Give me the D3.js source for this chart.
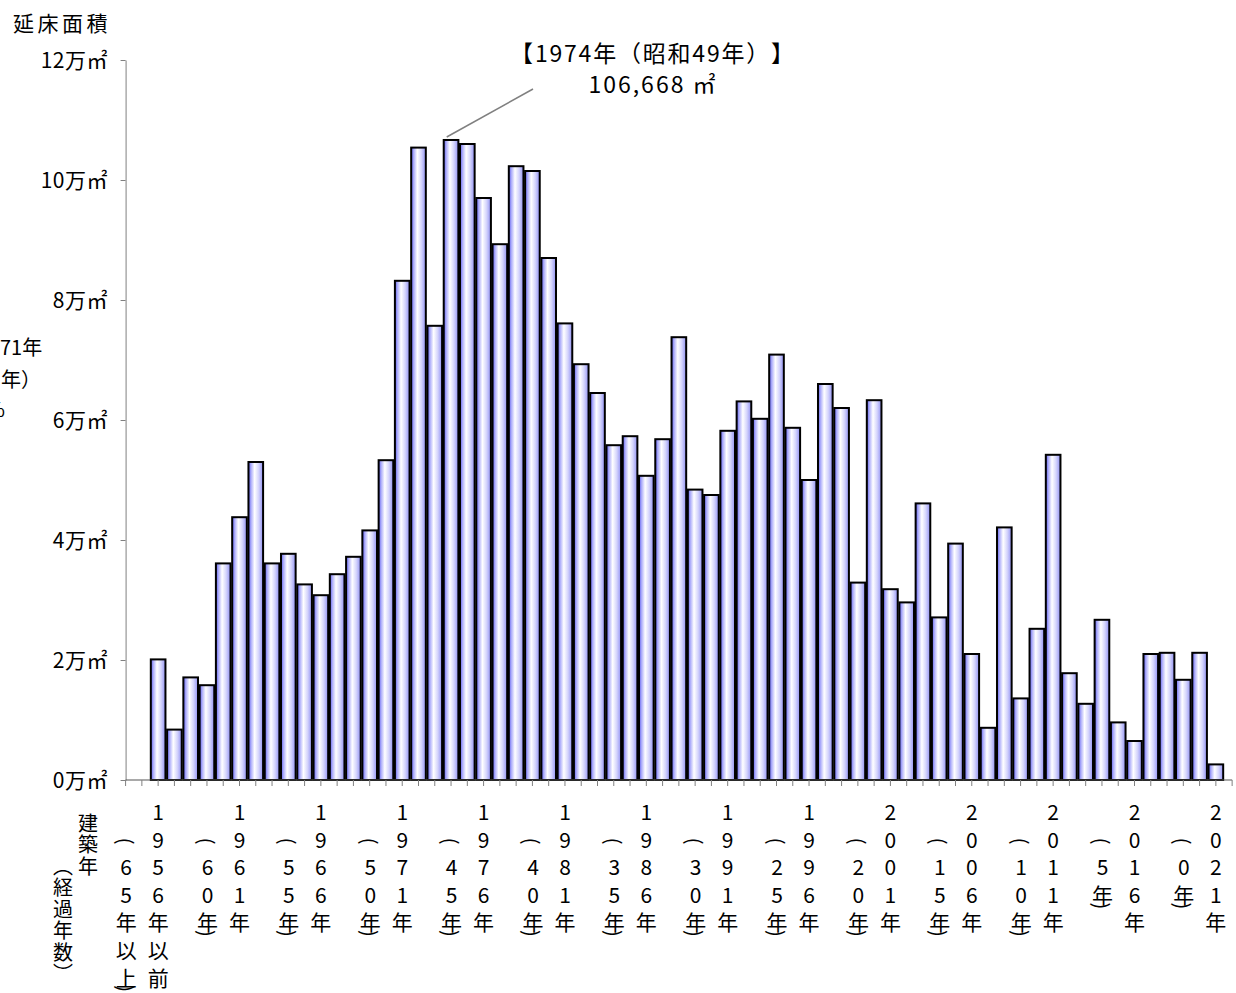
<!DOCTYPE html>
<html>
<head>
<meta charset="utf-8">
<script src="https://cdn.jsdelivr.net/npm/d3@7"></script>
<style>
  body { margin: 0; background: #fff; }
  text { font-family: "Noto Sans CJK JP", "Noto Sans", sans-serif; fill: #000; text-spacing-trim: space-all; }
</style>
</head>
<body>
<div id="main-vis"></div>
<script>
// 建築年ごとの延床面積 (m²)
var years = d3.range(1956, 2022);
var areas = [
  20100, 8400, 17100, 15800, 36100, 43800, 53000, 36100, 37700, 32600,
  30800, 34300, 37200, 41600, 53300, 83200, 105400, 75700, 106668, 106000,
  97000, 89300, 102300, 101500, 87000, 76100, 69300, 64500, 55800, 57300,
  50700, 56800, 73800, 48400, 47500, 58200, 63100, 60200, 70900, 58700,
  50000, 66000, 62000, 32900, 63300, 31800, 29600, 46100, 27100, 39400,
  21000, 8700, 42100, 13600, 25200, 54200, 17800, 12700, 26700, 9600,
  6500, 21000, 21200, 16700, 21200, 2600
];
var labelYears = [1956, 1961, 1966, 1971, 1976, 1981, 1986, 1991, 1996, 2001, 2006, 2011, 2016, 2021];
var yearLabels = ["1956年以前", "1961年", "1966年", "1971年", "1976年", "1981年", "1986年",
  "1991年", "1996年", "2001年", "2006年", "2011年", "2016年", "2021年"];
var elapsedLabels = ["(65年以上)", "(60年)", "(55年)", "(50年)", "(45年)", "(40年)", "(35年)",
  "(30年)", "(25年)", "(20年)", "(15年)", "(10年)", "(5年)", "(0年)"];
var yTicks = [0, 20000, 40000, 60000, 80000, 100000, 120000];
var yTickLabels = ["0万㎡", "2万㎡", "4万㎡", "6万㎡", "8万㎡", "10万㎡", "12万㎡"];
var peakYear = 1974;
var peakLines = ["【1974年（昭和49年）】", "106,668 ㎡"];

var width = 1236, height = 993;

var data = years.map(function (d, i) {
  return { year: d, area: areas[i] };
});

var svg = d3.select("#main-vis").append("svg")
  .attr("width", width)
  .attr("height", height);

var x = d3.scaleBand()
  .domain(years)
  .range([150, 1224])
  .paddingInner(0.1)
  .paddingOuter(0.05);
var y = d3.scaleLinear().domain([0, 120000]).range([780, 60]);

var step = x.step();
var center = function (yr) { return x(yr) + x.bandwidth() / 2; };
var axisLeftX = center(years[0]) - 2 * step;
var axisRightX = center(years[years.length - 1]) + step;

// bar gradient
var grad = svg.append("defs").append("linearGradient")
  .attr("id", "barGrad")
  .attr("x1", 0).attr("x2", 1).attr("y1", 0).attr("y2", 0);
[[0, "#5c5cee"], [0.18, "#aeaefa"], [0.42, "#ffffff"], [0.7, "#d4d4fc"], [1, "#9090f3"]]
  .forEach(function (s) {
    grad.append("stop").attr("offset", s[0]).attr("stop-color", s[1]);
  });

// y axis
var yAxis = svg.append("g")
  .attr("transform", "translate(" + axisLeftX + ",0)")
  .call(d3.axisLeft(y).tickValues(yTicks).tickSize(5).tickSizeOuter(0).tickFormat(""));
yAxis.select(".domain").attr("stroke", "#808080");
yAxis.selectAll(".tick line").attr("stroke", "#808080");

svg.selectAll(".ylab")
  .data(yTicks)
  .enter().append("text")
  .attr("class", "ylab")
  .attr("x", 108)
  .attr("y", function (d) { return y(d); })
  .attr("dy", "0.36em")
  .attr("text-anchor", "end")
  .style("font-size", "21px")
  .style("letter-spacing", "0.5px")
  .text(function (d, i) { return yTickLabels[i]; });

// bars
svg.selectAll(".bar")
  .data(data)
  .enter().append("rect")
  .attr("class", "bar")
  .attr("x", function (d) { return x(d.year); })
  .attr("width", x.bandwidth())
  .attr("y", function (d) { return y(d.area); })
  .attr("height", function (d) { return y(0) - y(d.area); })
  .attr("fill", "url(#barGrad)")
  .attr("stroke", "#000")
  .attr("stroke-width", 2);

// x axis baseline and ticks
svg.append("line")
  .attr("x1", axisLeftX).attr("x2", axisRightX)
  .attr("y1", y(0)).attr("y2", y(0))
  .attr("stroke", "#555").attr("stroke-width", 1.2);
svg.selectAll(".xtick")
  .data(d3.range(-2, years.length + 1))
  .enter().append("line")
  .attr("class", "xtick")
  .attr("x1", function (k) { return center(years[0]) + k * step; })
  .attr("x2", function (k) { return center(years[0]) + k * step; })
  .attr("y1", y(0)).attr("y2", y(0) + 6)
  .attr("stroke", "#808080");

// stacked characters for the category labels
function column(g, chars, cx, y0, dy, size) {
  chars.forEach(function (c, k) {
    g.append("text")
      .attr("x", cx).attr("y", y0 + k * dy)
      .attr("text-anchor", "middle")
      .attr("dominant-baseline", "central")
      .style("font-size", size + "px")
      .text(c);
  });
}
function paren(g, c, cx, cy, size) {
  g.append("text")
    .attr("transform", "translate(" + cx + "," + cy + ") rotate(90)")
    .attr("text-anchor", "middle")
    .attr("dominant-baseline", "central")
    .style("font-size", size + "px")
    .text(c);
}

var rowY0 = 811, rowStep = 27.6;
var xl = svg.append("g");
labelYears.forEach(function (yr, i) {
  var cx = center(yr);
  column(xl, Array.from(yearLabels[i]), cx, rowY0, rowStep, 21);
  var inner = Array.from(elapsedLabels[i].replace("(", "").replace(")", ""));
  var ex = cx - 32;
  column(xl, inner, ex, rowY0 + 2 * rowStep, rowStep, 21);
  paren(xl, "(", ex, rowY0 + 2 * rowStep - 25, 20);
  paren(xl, ")", ex, rowY0 + (inner.length + 1) * rowStep + 12, 20);
});

// axis titles
svg.append("text")
  .attr("x", 13).attr("y", 22)
  .attr("dominant-baseline", "central")
  .style("font-size", "21px")
  .style("letter-spacing", "3.5px")
  .text("延床面積");
svg.append("text")
  .attr("x", 88).attr("y", 813)
  .style("writing-mode", "vertical-rl")
  .style("font-size", "20px")
  .style("letter-spacing", "1.5px")
  .text("建築年");
svg.append("text")
  .attr("x", 63).attr("y", 856)
  .style("writing-mode", "vertical-rl")
  .style("font-size", "20px")
  .style("letter-spacing", "1.5px")
  .text("（経過年数）");

// peak annotation
var peakX = x(peakYear) + 3;
svg.append("line")
  .attr("x1", 533).attr("y1", 89)
  .attr("x2", peakX).attr("y2", y(106668) - 3)
  .attr("stroke", "#808080").attr("stroke-width", 1.5);
svg.selectAll(".peak")
  .data(peakLines)
  .enter().append("text")
  .attr("class", "peak")
  .attr("x", 653)
  .attr("y", function (d, i) { return 52 + i * 31; })
  .attr("dominant-baseline", "central")
  .attr("text-anchor", "middle")
  .style("font-size", "23px")
  .style("letter-spacing", function (d, i) { return i ? "2px" : "1.8px"; })
  .text(function (d) { return d; });

// text cut by the left edge of the original picture
var side = svg.append("g").style("font-size", "20px");
side.append("text").attr("x", 0).attr("y", 346).attr("dominant-baseline", "central")
  .text("71年");
side.append("text").attr("x", 1).attr("y", 378).attr("dominant-baseline", "central")
  .text("年）");
side.append("text").attr("x", 5).attr("y", 408).attr("dominant-baseline", "central")
  .attr("text-anchor", "end").text("%");
</script>
</body>
</html>
